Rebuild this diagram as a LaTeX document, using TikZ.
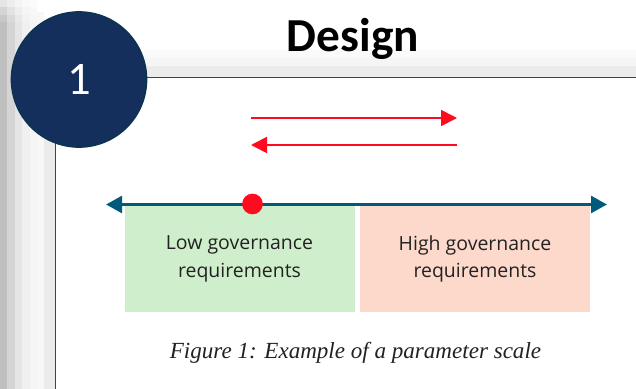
\documentclass[tikz,border=0pt]{standalone}
\usepackage{fontspec}
\setmainfont{Carlito}
\newfontfamily\labelfont{Open Sans}
\newfontfamily\capfont{Liberation Serif}
\usetikzlibrary{arrows.meta}
\definecolor{navy}{HTML}{142F5C}
\definecolor{navyedge}{HTML}{0B3350}
\definecolor{frameline}{HTML}{2A4377}
\definecolor{axisblue}{HTML}{005A7A}
\definecolor{redline}{HTML}{FF0A1E}
\definecolor{greenbox}{HTML}{CFEECB}
\definecolor{orangebox}{HTML}{FDD9CB}
\definecolor{txt}{HTML}{222222}
\tikzset{
  strip/.style={draw=none,fill=#1},
  scalebox/.style={draw=none,minimum width=172.5pt,minimum height=79.5pt,inner sep=0pt,align=center,text=txt,font=\labelfont\fontsize{14.6}{20.5}\selectfont},
  redarrow/.style={draw=redline,line width=1.3pt,-{Triangle[length=12pt,width=12pt]}},
  axis/.style={draw=axisblue,line width=2.6pt,{Triangle[length=12pt,width=12.5pt]}-{Triangle[length=12pt,width=12.5pt]}},
}
\begin{document}
\begin{tikzpicture}[x=0.75pt,y=-0.75pt,every node/.style={inner sep=0pt}]
\useasboundingbox (0,0) rectangle (636,389);
% shadow bands
\fill[strip=white] (0,0) rectangle (636,389);
\fill[strip={black!2}] (37,50) rectangle (636,58);
\fill[strip={black!4}] (37,58) rectangle (636,66);
\fill[strip={black!8}] (37,66) rectangle (636,77);
\fill[strip={black!25}] (0,0) rectangle (7,389);
\fill[strip={black!17}] (7,0) rectangle (15,389);
\fill[strip={black!10}] (15,0) rectangle (22,389);
\fill[strip={black!6}] (22,0) rectangle (30,389);
\fill[strip={black!4}] (30,0) rectangle (37,389);
\fill[strip={black!3}] (37,12) rectangle (44,389);
\fill[strip={black!8}] (44,66) rectangle (55,389);
\fill[strip=white,opacity=.6] (0,0) rectangle (37,7);
\fill[strip=white,opacity=.35] (0,7) rectangle (37,15);
\fill[strip=white,opacity=.15] (0,15) rectangle (37,22);
% frame
\fill[strip=white] (55.5,77.5) rectangle (636,389);
\coordinate (fa) at (55.5,389);
\coordinate (fb) at (55.5,77.5);
\coordinate (fc) at (636,77.5);
\draw[frameline,line width=1.1pt] (fa) -- (fb) -- (fc);
% badge
\node[circle,draw=navyedge,fill=navy,line width=1pt,minimum size=101.5pt,text=white,font=\fontsize{35}{38}\selectfont] (badge) at (79,79.5) {1};
\node[font=\bfseries\fontsize{35.5}{40}\selectfont,text=black] (title) at (353,39) {Design};
% red arrows
\coordinate (ra) at (251,118);
\coordinate (rb) at (457,118);
\coordinate (rc) at (457,145);
\coordinate (rd) at (251,145);
\draw[redarrow] (ra) -- (rb);
\draw[redarrow] (rc) -- (rd);
% boxes
\node[scalebox,fill=greenbox] (low) at (239.5,259) {Low governance\\requirements};
\node[scalebox,fill=orangebox] (high) at (475,259) {High governance\\requirements};
% axis
\coordinate (al) at (106,204.5);
\coordinate (ar) at (607,204.5);
\draw[axis] (al) -- (ar);
\node[circle,fill=redline,minimum size=15.5pt] (dot) at (252.5,204) {};
\node[font=\capfont\itshape\fontsize{17.3}{20}\selectfont,text=txt] (cap) at (355.5,353) {Figure 1: Example of a parameter scale};
\end{tikzpicture}
\end{document}
